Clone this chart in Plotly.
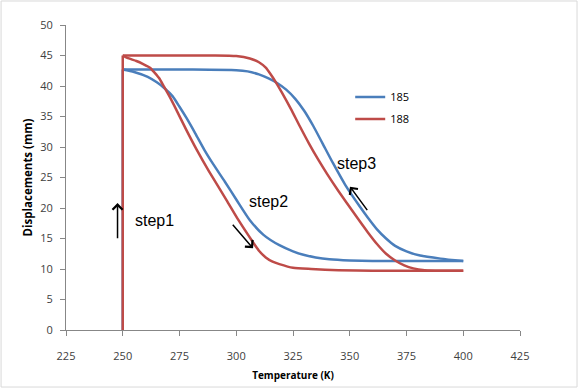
import plotly.graph_objects as go

# step1: loading at 250 K
step1_temp = [250, 250]
step1_disp_185 = [0, 42.7]
step1_disp_188 = [0, 45]

# ---- Series 185 (blue) ----
# step2: lower branch (250 K -> 400 K)
step2_temp_185 = [250, 255, 261, 265, 268.5, 272, 275, 278, 282, 286, 290, 295, 300, 306, 312, 319, 325, 330, 335, 341, 350, 360, 375, 400]
step2_disp_185 = [42.7, 42.3, 41.5, 40.6, 39.6, 38.3, 36.6, 34.8, 32.2, 29.5, 27.1, 24.3, 21.4, 18.0, 15.6, 13.9, 12.9, 12.3, 11.9, 11.6, 11.4, 11.3, 11.3, 11.3]
# step3: upper branch (400 K -> 250 K)
step3_temp_185 = [400, 390, 381, 375, 370, 366, 362, 358, 354.5, 348, 342.7, 338, 334, 330, 326, 322, 318, 314, 310, 305, 300, 280, 250]
step3_disp_185 = [11.3, 11.7, 12.2, 12.9, 13.8, 15.0, 16.5, 18.4, 20.2, 23.8, 27.3, 30.6, 33.4, 35.9, 37.9, 39.4, 40.5, 41.3, 41.9, 42.4, 42.6, 42.7, 42.7]

# ---- Series 188 (red) ----
step2_temp_188 = [250, 252, 256, 259, 262, 264, 266, 268, 271, 274, 278, 282.5, 288, 295.7, 301, 307, 310, 313, 316, 319, 325, 333, 345, 360, 400]
step2_disp_188 = [45, 44.6, 44.1, 43.6, 43.0, 42.2, 41.3, 40.0, 38.0, 35.8, 32.8, 29.6, 26.0, 21.3, 18.0, 14.6, 13.0, 11.9, 11.2, 10.8, 10.2, 10.0, 9.8, 9.7, 9.7]
step3_temp_188 = [400, 390, 383, 378, 374, 370, 366, 362, 358, 351.6, 345, 340, 336, 332, 328, 324, 320, 317.8, 315, 313, 310, 306, 300, 290, 250]
step3_disp_188 = [9.7, 9.7, 9.8, 10.1, 10.6, 11.4, 12.5, 14.1, 16.0, 19.3, 22.8, 25.6, 28.0, 30.6, 33.4, 36.3, 39.0, 40.4, 42.0, 43.0, 43.9, 44.5, 44.9, 45, 45]

series_names = ["185", "188"]
x_ticks = [225, 250, 275, 300, 325, 350, 375, 400, 425]
y_ticks = [0, 5, 10, 15, 20, 25, 30, 35, 40, 45, 50]

step_labels = ["step1", "step2", "step3"]
step_text_x = [264, 314.4, 352.9]
step_text_y = [18, 21, 27.3]
arrow_tail_x = [247.7, 297.9, 358.2]
arrow_tail_y = [14.8, 17.5, 19.4]
arrow_head_x = [247.7, 307.4, 350.1]
arrow_head_y = [20.8, 13.4, 23.5]

BLUE = "#4A7EBB"
RED = "#BE4B48"

fig = go.Figure()
series = [
    (series_names[0], BLUE, "legend", step1_disp_185, step2_temp_185, step2_disp_185, step3_temp_185, step3_disp_185),
    (series_names[1], RED, "legend2", step1_disp_188, step2_temp_188, step2_disp_188, step3_temp_188, step3_disp_188),
]
for name, color, leg, d1, t2, d2, t3, d3 in series:
    fig.add_trace(go.Scatter(x=step1_temp, y=d1, mode="lines", name=name, legendgroup=name,
                             line=dict(color=color, width=2.5), legend=leg, showlegend=True))
    fig.add_trace(go.Scatter(x=t2, y=d2, mode="lines", name=name, legendgroup=name,
                             line=dict(color=color, width=2.5, shape="spline", smoothing=0.6),
                             legend=leg, showlegend=False))
    fig.add_trace(go.Scatter(x=t3, y=d3, mode="lines", name=name, legendgroup=name,
                             line=dict(color=color, width=2.5, shape="spline", smoothing=0.6),
                             legend=leg, showlegend=False))

annotations = []
for lab, tx, ty in zip(step_labels, step_text_x, step_text_y):
    annotations.append(dict(x=tx, y=ty, xref="x", yref="y", text=lab, showarrow=False,
                            font=dict(family="Liberation Sans", size=16, color="#000000")))
for x0, y0, x1, y1 in zip(arrow_tail_x, arrow_tail_y, arrow_head_x, arrow_head_y):
    annotations.append(dict(x=x1, y=y1, ax=x0, ay=y0, xref="x", yref="y", axref="x", ayref="y",
                            text="", showarrow=True, arrowhead=4, arrowsize=1.3, arrowwidth=1.5,
                            arrowcolor="#000000"))

axis_font = dict(family="Open Sans", size=11, color="#404040")

fig.update_layout(
    width=579, height=389,
    margin=dict(l=66, r=59, t=25, b=59),
    paper_bgcolor="white", plot_bgcolor="white",
    showlegend=True,
    font=dict(family="Open Sans", color="#404040"),
    xaxis=dict(range=[225, 425], tickvals=x_ticks, ticks="outside", ticklen=5, tickcolor="#878787",
               showline=True, linecolor="#878787", linewidth=1, showgrid=False, zeroline=False,
               tickfont=axis_font, ticklabelstandoff=11, automargin=False,
               title=dict(text="<b>Temperature (K)</b>", font=dict(family="Open Sans", size=10, color="#000000"), standoff=9)),
    yaxis=dict(range=[0, 50], tickvals=y_ticks, ticks="outside", ticklen=5, tickcolor="#878787",
               showline=True, linecolor="#878787", linewidth=1, showgrid=False, zeroline=False,
               tickfont=axis_font, ticklabelstandoff=5, automargin=False,
               title=dict(text="<b>Displacements (mm)</b>", font=dict(family="Open Sans", size=11.5, color="#000000"), standoff=5)),
    legend=dict(x=0.626, y=0.764, xanchor="left", yanchor="middle", bgcolor="rgba(0,0,0,0)",
                font=dict(family="Open Sans", size=11, color="#000000")),
    legend2=dict(x=0.626, y=0.692, xanchor="left", yanchor="middle", bgcolor="rgba(0,0,0,0)",
                 font=dict(family="Open Sans", size=11, color="#000000")),
    annotations=annotations,
    shapes=[dict(type="rect", xref="paper", yref="paper", x0=-0.143, x1=1.1256, y0=-0.187, y1=1.0787,
                 line=dict(color="#d9d9d9", width=1), layer="below")],
)

fig.write_html("out.html", config={"displayModeBar": False},
               post_script="document.body.style.margin='0';")
